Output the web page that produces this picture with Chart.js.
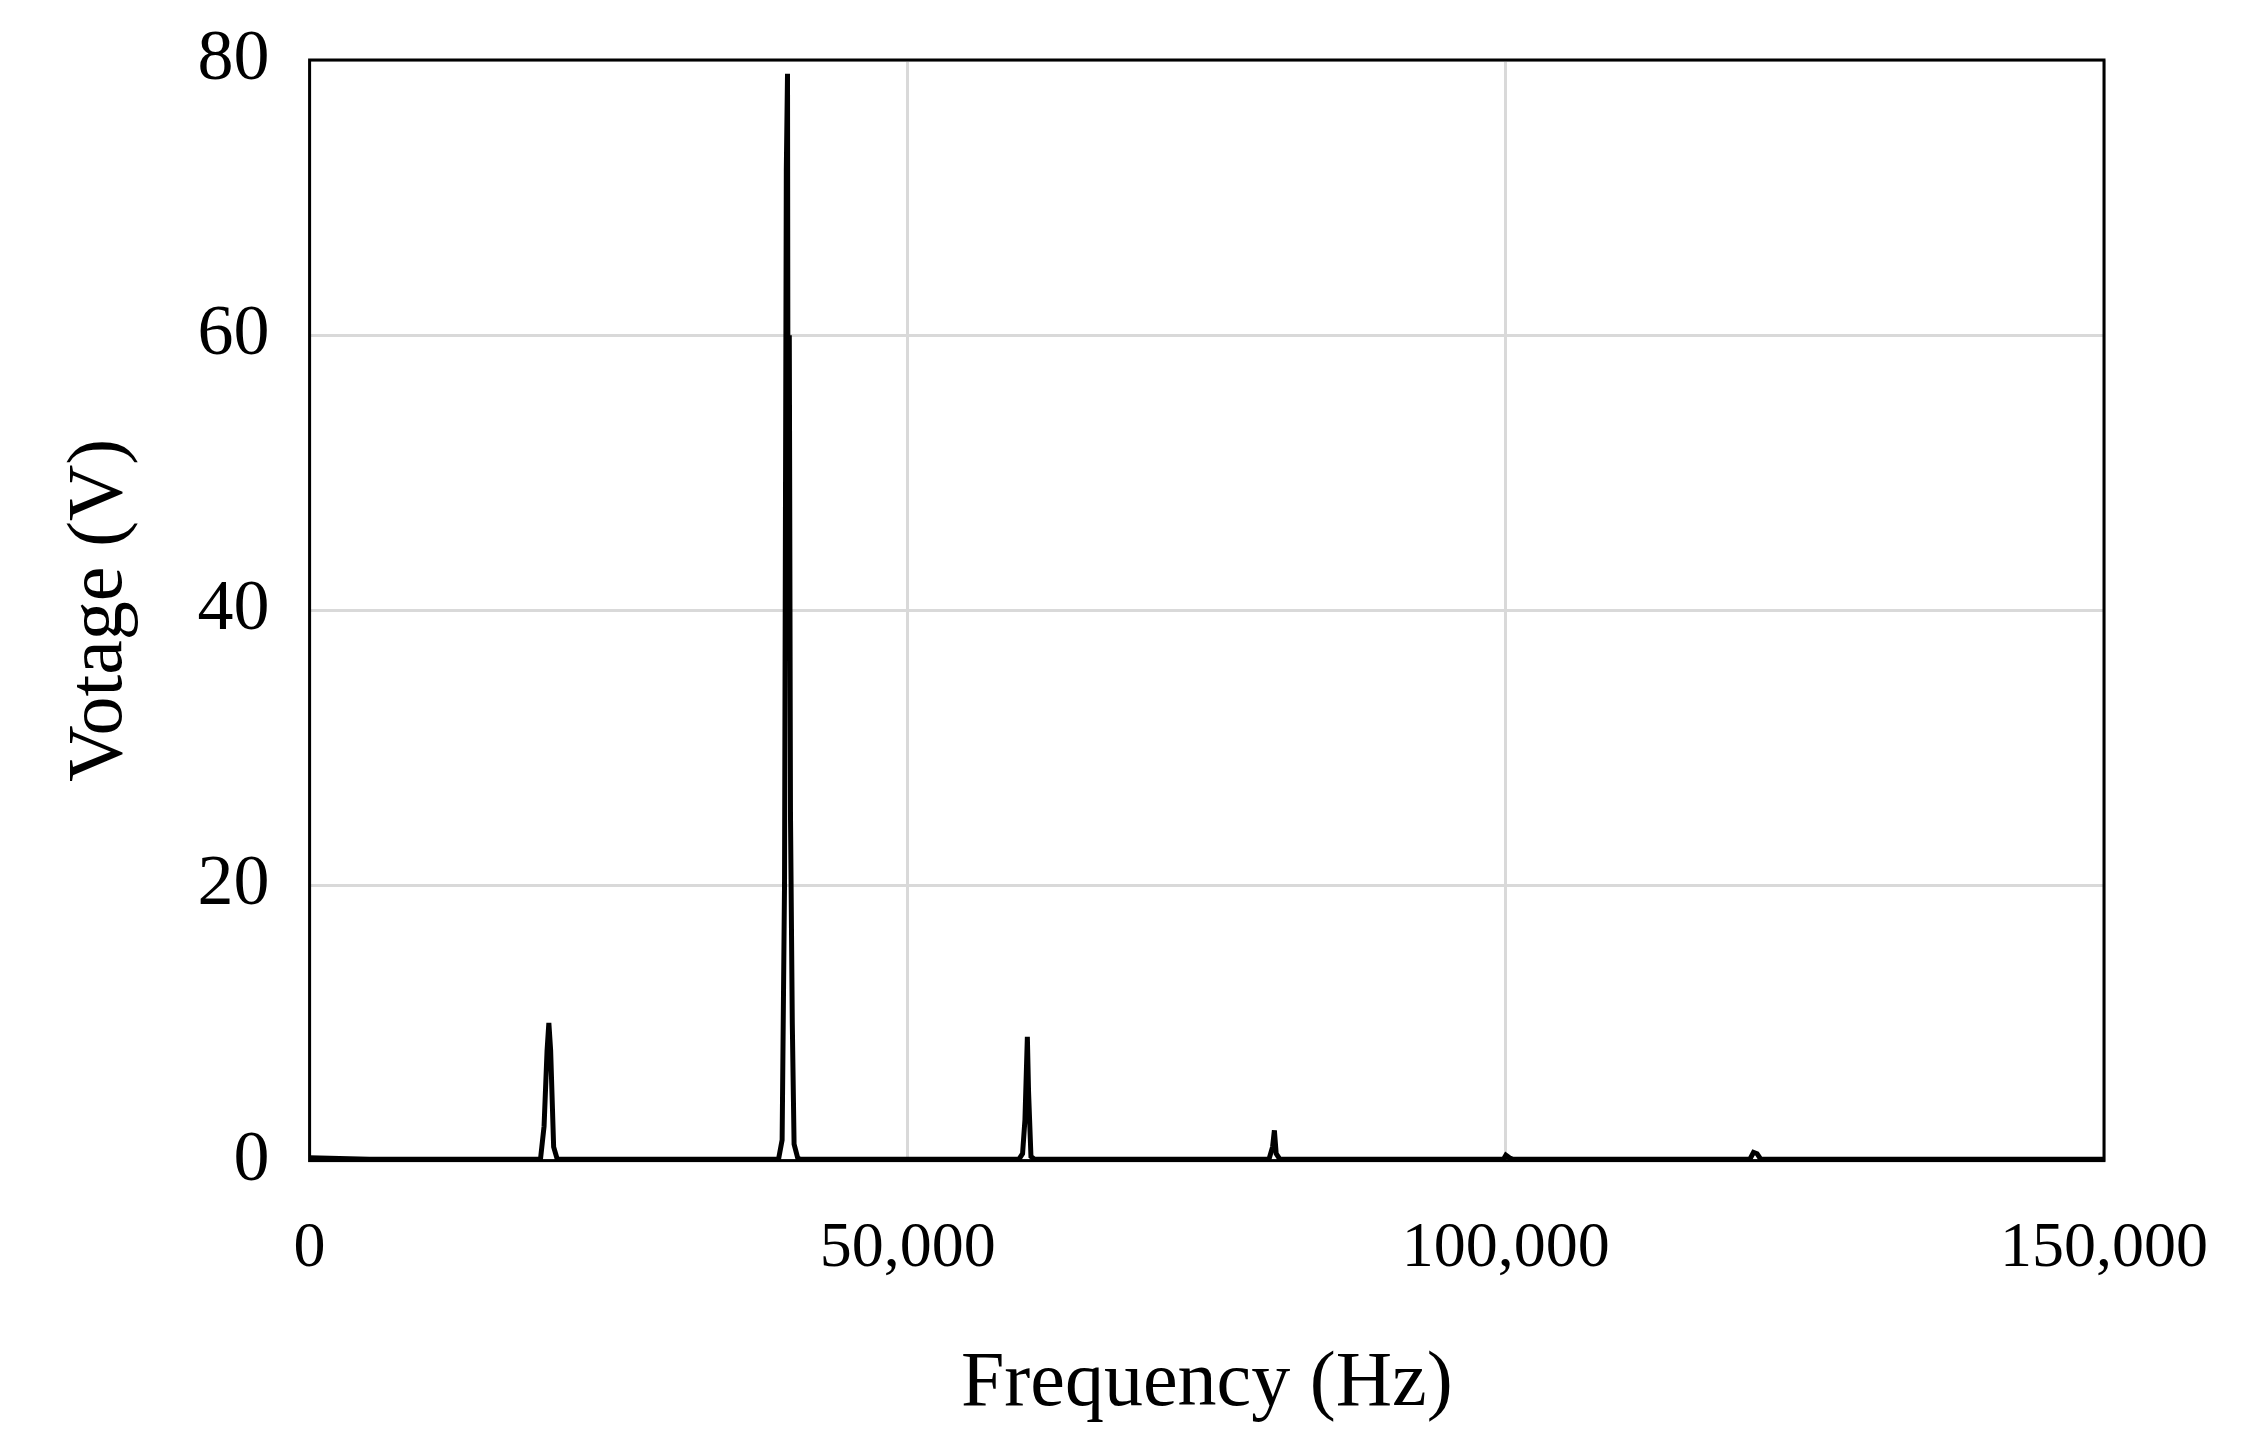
<!DOCTYPE html>
<html>
<head>
<script src="https://cdn.jsdelivr.net/npm/chart.js@4"></script>
<style>html,body{margin:0;background:#fff}</style>
</head>
<body>
<canvas id="c" width="2244" height="1435"></canvas>
<script>
// spectrum (Hz, V)
const freqs = [0, 5000, 10000, 15000, 19300, 19600, 19850, 20000, 20150, 20400, 20700,
  25000, 30000, 35000, 39200, 39500, 39700, 39850, 39950, 40000, 40100, 40200, 40350, 40500, 40800, 41000,
  45000, 50000, 55000, 59300, 59600, 59800, 60000, 60100, 60300, 60600,
  65000, 70000, 75000, 80200, 80500, 80650, 80800, 81100,
  85000, 90000, 95000, 99800, 100000, 100300, 100600,
  105000, 110000, 115000, 120400, 120700, 121000, 121300, 125000, 130000, 135000, 140000, 145000, 150000];
const volts = [0.2, 0.1, 0.1, 0.1, 0.1, 2.5, 8, 10, 8, 1, 0.1,
  0.1, 0.1, 0.1, 0.1, 1.5, 20, 72, 79, 45, 60, 25, 10, 1.2, 0.2, 0.1,
  0.1, 0.1, 0.1, 0.1, 0.5, 3, 9, 5, 0.3, 0.1,
  0.1, 0.1, 0.1, 0.1, 1, 2.2, 0.5, 0.1,
  0.1, 0.1, 0.1, 0.1, 0.4, 0.2, 0.1,
  0.1, 0.1, 0.1, 0.1, 0.6, 0.5, 0.1, 0.1, 0.1, 0.1, 0.1, 0.1, 0.1];
const xTicks = [0, 50000, 100000, 150000];
const yTicks = [0, 20, 40, 60, 80];

const frame = {
  id: 'frame',
  afterDraw(chart) {
    const {ctx, chartArea: a} = chart;
    ctx.save();
    ctx.strokeStyle = '#000';
    ctx.lineWidth = 3;
    ctx.strokeRect(a.left, a.top, a.right - a.left, a.bottom - a.top);
    ctx.restore();
  }
};

const serif = 'Liberation Serif';
new Chart(document.getElementById('c'), {
  type: 'line',
  data: {
    datasets: [{
      data: freqs.map((f, i) => ({x: f, y: volts[i]})),
      borderColor: '#000',
      borderWidth: 5,
      pointRadius: 0,
      tension: 0
    }]
  },
  options: {
    responsive: false,
    devicePixelRatio: 1,
    animation: false,
    plugins: {legend: {display: false}, tooltip: {enabled: false}},
    layout: {padding: {left: 50, right: 140, top: 60, bottom: 0}},
    scales: {
      x: {
        type: 'linear', min: 0, max: 150000,
        afterBuildTicks: s => { s.ticks = xTicks.map(v => ({value: v})); },
        afterFit: s => { s.paddingRight = 0; },
        ticks: {font: {family: serif, size: 64}, color: '#000', padding: 50, maxRotation: 0,
          callback: v => v.toLocaleString('en-US')},
        grid: {color: '#d9d9d9', lineWidth: 3, drawTicks: false},
        border: {display: false},
        title: {display: true, text: 'Frequency (Hz)', font: {family: serif, size: 78}, color: '#000', padding: {top: 0, bottom: 4}}
      },
      y: {
        min: 0, max: 80,
        afterBuildTicks: s => { s.ticks = yTicks.map(v => ({value: v})); },
        afterFit: s => { s.paddingTop = 0; },
        ticks: {font: {family: serif, size: 72}, color: '#000', padding: 40},
        grid: {color: '#d9d9d9', lineWidth: 3, drawTicks: false},
        border: {display: false},
        title: {display: true, text: 'Votage (V)', font: {family: serif, size: 78}, color: '#000', padding: {bottom: 10}}
      }
    }
  },
  plugins: [frame]
});
</script>
</body>
</html>
